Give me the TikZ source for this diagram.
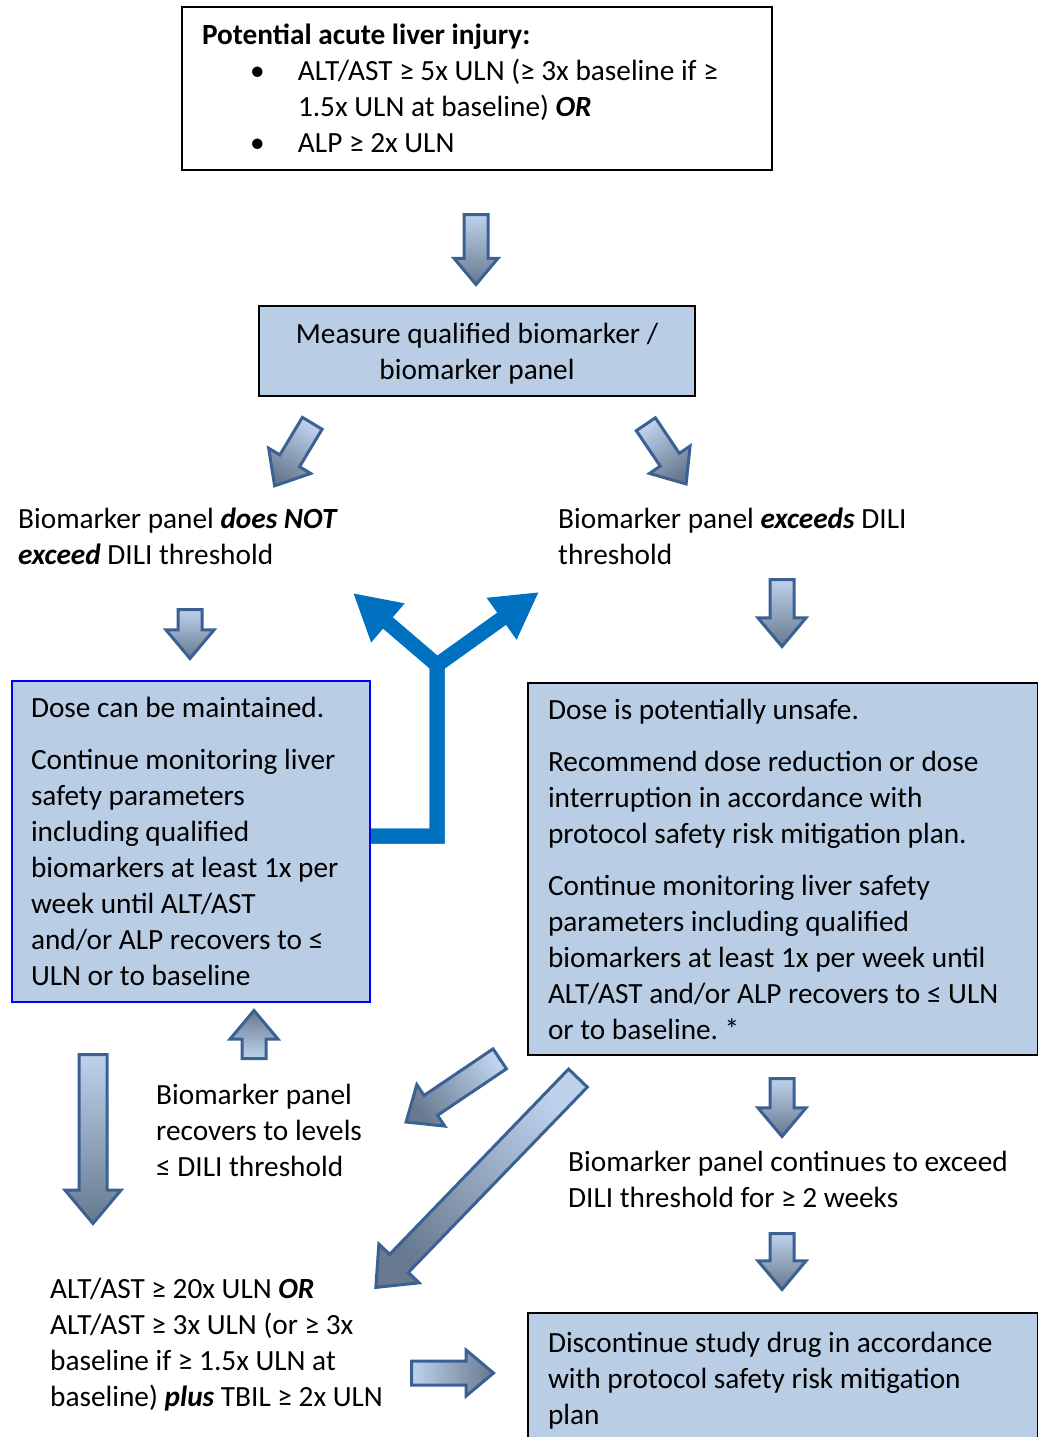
\documentclass[tikz,border=0pt]{standalone}
\usepackage{fontspec}
\setmainfont{Carlito}
\frenchspacing
\usetikzlibrary{shapes.arrows,arrows.meta}
\definecolor{boxblue}{HTML}{B9CDE5}
\definecolor{arrowline}{HTML}{3B6193}
\definecolor{arrowlight}{HTML}{BED2EC}
\definecolor{arrowdark}{HTML}{67798F}
\definecolor{forkblue}{HTML}{0070C0}

\begin{document}
\begin{tikzpicture}[x=1pt, y=-1pt,
    every node/.style={font=\fontsize{29.3}{36}\selectfont},
    box/.style={draw, line width=2pt, anchor=north west, align=flush left, inner xsep=20pt, inner ysep=0pt},
    bluebox/.style={box, fill=boxblue},
    txt/.style={anchor=north west, align=left, inner sep=0pt},
    blockarrow/.style n args={4}{single arrow, draw=arrowline, line width=3pt, inner sep=0pt,
      anchor=tail, top color=arrowlight, bottom color=arrowdark, single arrow tip angle=80,
      minimum height=#1, text height=#2, single arrow head extend=#3,
      rotate=#4, shading angle=#4+90},
    fork/.style={draw=forkblue, line width=15pt, line join=miter, -{Triangle[length=46pt,width=48pt]}}]
  \useasboundingbox (0,0) rectangle (1038,1437);

  % boxes
  \node[box, minimum width=590pt, minimum height=163pt, text width=550pt] (injury) at (181,6)
    {\textbf{Potential acute liver injury:}\\
     \hspace*{48pt}\makebox[48pt][l]{\textbullet}ALT/AST ≥ 5x ULN (≥ 3x baseline if ≥\\
     \hspace*{96pt}1.5x ULN at baseline) \textbf{\textit{OR}}\\
     \hspace*{48pt}\makebox[48pt][l]{\textbullet}ALP ≥ 2x ULN};
  \node[bluebox, align=flush center, minimum width=436pt, minimum height=90pt, text width=396pt, text depth=35pt] (measure) at (258,305)
    {Measure qualified biomarker /\\biomarker panel};
  \node[bluebox, draw=blue, inner xsep=19pt, minimum width=358pt, minimum height=321pt, text width=320pt] (maintain) at (11,680)
    {Dose can be maintained.\\[16pt]
     Continue monitoring liver\\safety parameters\\including qualified\\biomarkers at least 1x per\\
     week until ALT/AST\\and/or ALP recovers to ≤\\ULN or to baseline};
  \node[bluebox, minimum width=510pt, minimum height=372pt, text width=470pt] (unsafe) at (527,682)
    {Dose is potentially unsafe.\\[16pt]
     Recommend dose reduction or dose\\interruption in accordance with\\protocol safety risk mitigation plan.\\[16pt]
     Continue monitoring liver safety\\parameters including qualified\\biomarkers at least 1x per week until\\
     ALT/AST and/or ALP recovers to ≤ ULN\\or to baseline. *};
  \node[bluebox, minimum width=510pt, minimum height=135pt, text width=470pt] (stop) at (527,1312)
    {Discontinue study drug in accordance\\with protocol safety risk mitigation\\plan};

  % free texts
  \node[txt] (below) at (18,508) {Biomarker panel \textbf{\textit{does NOT}}\\\textbf{\textit{exceed}} DILI threshold};
  \node[txt] (above) at (558,508) {Biomarker panel \textbf{\textit{exceeds}} DILI\\threshold};
  \node[txt] (recover) at (156,1084) {Biomarker panel\\recovers to levels\\≤ DILI threshold};
  \node[txt] (persist) at (568,1151) {Biomarker panel continues to exceed\\DILI threshold for ≥ 2 weeks};
  \node[txt] (severe) at (50,1278) {ALT/AST ≥ 20x ULN \textbf{\textit{OR}}\\ALT/AST ≥ 3x ULN (or ≥ 3x\\
    baseline if ≥ 1.5x ULN at\\baseline) \textbf{\textit{plus}} TBIL ≥ 2x ULN};

  % block arrows
  \node[blockarrow={70pt}{21pt}{10pt}{-90}] (injurydown) at (476,213) {};
  \node[blockarrow={73pt}{20pt}{13pt}{-121}] (belowdiag) at (313,422) {};
  \node[blockarrow={72pt}{20pt}{13pt}{-56}] (abovediag) at (645,423) {};
  \node[blockarrow={49pt}{21pt}{12pt}{-90}] (belowdown) at (190,608) {};
  \node[blockarrow={67pt}{21pt}{12pt}{-90}] (abovedown) at (782,578) {};
  \node[blockarrow={48pt}{21pt}{12pt}{90}] (recoverup) at (254,1060) {};
  \node[blockarrow={169pt}{25pt}{14pt}{-90}] (severedown) at (93,1053) {};
  \node[blockarrow={113pt}{21pt}{13pt}{-146}] (recoverdiag) at (501,1058) {};
  \node[blockarrow={291pt}{23pt}{15pt}{-134}] (severediag) at (579,1077) {};
  \node[blockarrow={58pt}{21pt}{12pt}{-90}] (persistdown) at (782,1077) {};
  \node[blockarrow={56pt}{21pt}{12pt}{-90}] (stopdown) at (782,1232) {};
  \node[blockarrow={82pt}{21pt}{11pt}{0}] (stopright) at (410,1373) {};

  % fork back to the thresholds
  \coordinate (split) at (437,665);
  \coordinate (backleft) at (353,593);
  \coordinate (backright) at (539,592);
  \draw[fork] (maintain.east |- 0,836) -| (split) -- (backleft);
  \draw[fork] (maintain.east |- 0,836) -| (split) -- (backright);
\end{tikzpicture}
\end{document}
